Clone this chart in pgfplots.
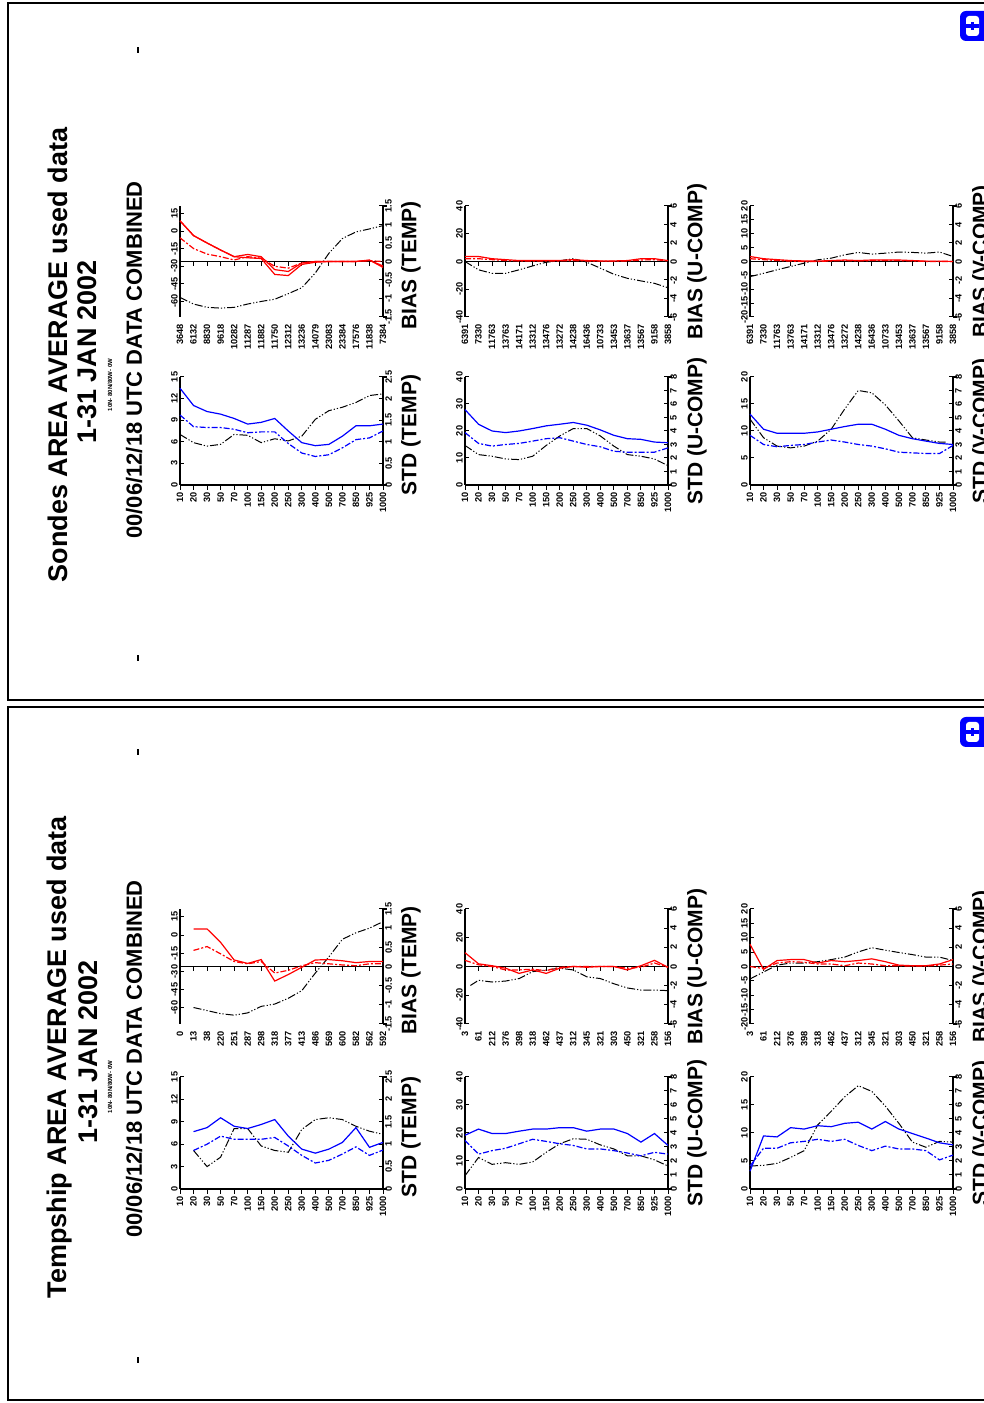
\documentclass[border=0pt]{standalone}
\usepackage{fontspec}
\setmainfont{Liberation Sans}
\usepackage{pgfplots}
\pgfplotsset{compat=1.18}

\newcommand\tk{\fontsize{4.6}{5}\selectfont\bfseries}
\newcommand\axfont{\fontsize{10.5}{12}\selectfont\bfseries}
\newcommand\ttl{\fontsize{13.5}{16}\selectfont\bfseries}

\tikzset{axl/.style={rotate=90, font=\axfont, inner sep=0pt}}

\pgfplotsset{
 base/.style={scale only axis, width=101.5pt, xmin=0, xmax=15, clip=false, anchor=south west,
   axis line style={line width=0.6pt, black}, tick style={line width=0.5pt, black}, major tick length=2pt},
 leftA/.style={base, axis y line*=left, axis x line*=bottom, x axis line style={draw=none},
   xtick={0,...,15}, major x tick style={draw=none},
   yticklabel style={rotate=90, anchor=south, font=\tk, inner sep=1pt},
   xticklabel style={yshift=-2.5pt, rotate=90, anchor=east, font=\tk, inner sep=1pt},
   tick align=inside},
 rightA/.style={base, axis y line*=right, axis x line=none,
   yticklabel style={rotate=90, anchor=north, font=\tk, inner sep=1pt}, tick align=inside},
 pres/.style={xticklabels={10,20,30,50,70,100,150,200,250,300,400,500,700,850,925,1000}},
 cntST/.style={xticklabels={3648,6132,8830,9618,10282,11287,11882,11750,12312,13236,14079,23083,23384,17576,11838,7384}},
 cntSW/.style={xticklabels={6391,7330,11763,13763,14171,13312,13476,13272,14238,16436,10733,13453,13637,13567,9158,3858}},
 cntTT/.style={xticklabels={0,13,38,220,251,287,298,318,377,413,486,569,600,582,562,592}},
 cntTW/.style={xticklabels={3,61,212,376,398,318,462,437,312,345,321,303,450,321,258,156}},
 tbias/.style={ymin=-1.5, ymax=1.5},
 wbias/.style={ymin=-3, ymax=3},
 tstd/.style={ymin=0, ymax=2.5},
 wstd/.style={ymin=0, ymax=8},
 LtB/.style={ytick={1.31,0.82,0.34,-0.13,-0.6,-1.07}, yticklabels={15,0,-15,-30,-45,-60}},
 LuB/.style={ytick={3,1.5,0,-1.5,-3}, yticklabels={40,20,0,-20,-40}},
 LvB/.style={ytick={3,2.25,1.5,0.75,0,-0.75,-1.5,-2.25,-3}, yticklabels={20,15,10,5,0,-5,-10,-15,-20}},
 LtS/.style={ytick={0,0.5,1,1.5,2,2.5}, yticklabels={0,3,6,9,12,15}},
 LuS/.style={ytick={0,2,4,6,8}, yticklabels={0,10,20,30,40}},
 LvS/.style={ytick={0,2,4,6,8}, yticklabels={0,5,10,15,20}},
 RtB/.style={ytick={-1.5,-1,-0.5,0,0.5,1,1.5}, yticklabels={-1.5,-1,-0.5,0,0.5,1,1.5}},
 RwB/.style={ytick={-3,-2,-1,0,1,2,3}, yticklabels={-6,-4,-2,0,2,4,6}},
 RtS/.style={ytick={0,0.5,1,1.5,2,2.5}, yticklabels={0,0.5,1,1.5,2,2.5}},
 RwS/.style={ytick={0,1,2,3,4,5,6,7,8}, yticklabels={0,1,2,3,4,5,6,7,8}},
 redS/.style={red, line width=0.6pt},
 redD/.style={red, line width=0.6pt, dash pattern=on 3pt off 1pt on 1pt off 1pt},
 bluS/.style={blue, line width=0.6pt},
 bluD/.style={blue, line width=0.6pt, dash pattern=on 3pt off 1pt on 1pt off 1pt},
 blk/.style={black, line width=0.5pt, dash pattern=on 4pt off 1pt on 0.6pt off 1pt on 0.6pt off 1pt},
}

\newcommand\zeroline{%
  \draw[line width=0.6pt] (axis cs:0,0) -- (axis cs:15,0);
  \pgfplotsinvokeforeach{0,...,15}{\draw[line width=0.5pt] (axis cs:##1,0) -- ++(0pt,-2.5pt);}}
\newcommand\serifs{%
  \draw[line width=0.6pt] (rel axis cs:1,1) -- ++(2pt,0pt);
  \draw[line width=0.6pt] (rel axis cs:1,0) -- ++(2pt,0pt);}

\begin{document}
\begin{tikzpicture}
\useasboundingbox (0,0) rectangle (492pt,701.5pt);
\clip (0,0) rectangle (492pt,701.5pt);
\fill[white] (0,0) rectangle (492pt,701.5pt);

% frames
\draw[line width=0.9pt] (500pt,700pt) -- (4pt,700pt) -- (4pt,351.5pt) -- (500pt,351.5pt);
\draw[line width=0.9pt] (500pt,348pt) -- (4pt,348pt) -- (4pt,1.5pt) -- (500pt,1.5pt);

% marks
\fill (68.5pt,675pt) rectangle (69.5pt,678pt);
\fill (68.5pt,371pt) rectangle (69.5pt,374pt);
\fill (68.5pt,324pt) rectangle (69.5pt,327pt);
\fill (68.5pt,20pt) rectangle (69.5pt,23pt);

% logos
\foreach \yy in {681pt,328pt}{
  \begin{scope}[yshift=\yy]
  \fill[blue, rounded corners=3pt] (480pt,0pt) rectangle (496pt,15pt);
  \fill[white, rounded corners=1.5pt] (483pt,2.5pt) rectangle (489.5pt,12.5pt);
  \fill[blue] (483pt,6.6pt) rectangle (489.5pt,8.4pt);
  \fill[blue] (485.3pt,5.5pt) rectangle (487.2pt,9.5pt);
  \end{scope}
}

% titles Sondes
\node[rotate=90, font=\ttl] at (29pt,524pt) {Sondes AREA AVERAGE used data};
\node[rotate=90, font=\ttl] at (43.5pt,525.5pt) {1-31 JAN 2002};
\node[rotate=90, font=\fontsize{3}{3.5}\selectfont\bfseries] at (55pt,509pt) {10N- 80N/80W- 0W};
\node[rotate=90, font=\fontsize{11}{13}\selectfont\bfseries] at (67pt,521.5pt) {00/06/12/18 UTC DATA COMBINED};
% titles Tempship
\node[rotate=90, font=\ttl] at (30pt,173pt) {Tempship AREA AVERAGE used data};
\node[rotate=90, font=\ttl] at (44pt,175.5pt) {1-31 JAN 2002};
\node[rotate=90, font=\fontsize{3}{3.5}\selectfont\bfseries] at (55pt,158pt) {10N- 80N/80W- 0W};
\node[rotate=90, font=\fontsize{11}{13}\selectfont\bfseries] at (67pt,172pt) {00/06/12/18 UTC DATA COMBINED};

%%%%%%%%%%%%%%%% SONDES %%%%%%%%%%%%%%%%
% TEMP BIAS
\begin{axis}[leftA, cntST, tbias, LtB, at={(90pt,543pt)}, height=55.5pt]
\zeroline
\end{axis}
\begin{axis}[rightA, tbias, RtB, at={(90pt,543pt)}, height=55.5pt]
\addplot[blk] coordinates {(0,-0.97)(1,-1.15)(2,-1.24)(3,-1.26)(4,-1.24)(5,-1.15)(6,-1.08)(7,-1.02)(8,-0.87)(9,-0.71)(10,-0.31)(11,0.22)(12,0.62)(13,0.8)(14,0.88)(15,0.97)};
\addplot[redD] coordinates {(0,0.64)(1,0.35)(2,0.2)(3,0.13)(4,0.04)(5,0.13)(6,0.09)(7,-0.13)(8,-0.18)(9,-0.04)(10,0)(11,0)(12,0)(13,0)(14,0.02)(15,0)};
\addplot[redS] coordinates {(0,1.1)(1,0.7)(2,0.5)(3,0.31)(4,0.13)(5,0.1)(6,0.08)(7,-0.35)(8,-0.38)(9,-0.08)(10,-0.02)(11,0)(12,0)(13,0)(14,0.03)(15,-0.12)};
\addplot[redS] coordinates {(0,1.1)(1,0.7)(2,0.5)(3,0.31)(4,0.13)(5,0.19)(6,0.13)(7,-0.22)(8,-0.27)(9,-0.04)(10,0)(11,0)(12,0)(13,0)(14,0.04)(15,-0.16)};
\serifs
\node[axl] at ([xshift=14pt,yshift=-2pt]rel axis cs:1,0.5) {BIAS (TEMP)};
\end{axis}
% TEMP STD
\begin{axis}[leftA, pres, tstd, LtS, at={(90pt,459pt)}, height=54pt]
\zeroline
\end{axis}
\begin{axis}[rightA, tstd, RtS, at={(90pt,459pt)}, height=54pt]
\addplot[blk] coordinates {(0,1.17)(1,0.98)(2,0.90)(3,0.94)(4,1.17)(5,1.15)(6,0.98)(7,1.07)(8,1.02)(9,1.13)(10,1.52)(11,1.72)(12,1.80)(13,1.91)(14,2.07)(15,2.11)};
\addplot[bluD] coordinates {(0,1.62)(1,1.35)(2,1.33)(3,1.33)(4,1.29)(5,1.21)(6,1.23)(7,1.23)(8,0.96)(9,0.74)(10,0.66)(11,0.70)(12,0.86)(13,1.05)(14,1.09)(15,1.25)};
\addplot[bluS] coordinates {(0,2.24)(1,1.84)(2,1.70)(3,1.64)(4,1.54)(5,1.41)(6,1.45)(7,1.54)(8,1.25)(9,0.98)(10,0.91)(11,0.94)(12,1.13)(13,1.37)(14,1.37)(15,1.41)};
\serifs
\node[axl] at ([xshift=14pt,yshift=-2pt]rel axis cs:1,0.5) {STD (TEMP)};
\end{axis}

% U BIAS
\begin{axis}[leftA, cntSW, wbias, LuB, at={(232.5pt,543pt)}, height=55.5pt]
\zeroline
\end{axis}
\begin{axis}[rightA, wbias, RwB, at={(232.5pt,543pt)}, height=55.5pt]
\addplot[blk] coordinates {(0,0)(1,-0.45)(2,-0.64)(3,-0.64)(4,-0.45)(5,-0.24)(6,-0.04)(7,0.04)(8,0.15)(9,-0.04)(10,-0.36)(11,-0.69)(12,-0.91)(13,-1.05)(14,-1.18)(15,-1.42)};
\addplot[redD] coordinates {(0,0.15)(1,0.15)(2,0.1)(3,0.05)(4,0.03)(5,0.03)(6,0.03)(7,0.03)(8,0.05)(9,0.03)(10,0.02)(11,0.02)(12,0.03)(13,0.08)(14,0.1)(15,0.03)};
\addplot[redS] coordinates {(0,0.27)(1,0.27)(2,0.15)(3,0.1)(4,0.05)(5,0.05)(6,0.05)(7,0.05)(8,0.1)(9,0.05)(10,0.03)(11,0.03)(12,0.05)(13,0.15)(14,0.15)(15,0.05)};
\serifs
\node[axl] at ([xshift=14.5pt]rel axis cs:1,0.5) {BIAS (U-COMP)};
\end{axis}
% U STD
\begin{axis}[leftA, pres, wstd, LuS, at={(232.5pt,459pt)}, height=54pt]
\zeroline
\end{axis}
\begin{axis}[rightA, wstd, RwS, at={(232.5pt,459pt)}, height=54pt]
\addplot[blk] coordinates {(0,2.93)(1,2.25)(2,2.13)(3,1.93)(4,1.88)(5,2.13)(6,2.93)(7,3.63)(8,4.18)(9,4.18)(10,3.63)(11,2.88)(12,2.25)(13,2.13)(14,1.93)(15,1.43)};
\addplot[bluD] coordinates {(0,3.88)(1,3.08)(2,2.88)(3,3.0)(4,3.08)(5,3.25)(6,3.43)(7,3.5)(8,3.25)(9,3.0)(10,2.83)(11,2.5)(12,2.43)(13,2.43)(14,2.43)(15,2.75)};
\addplot[bluS] coordinates {(0,5.58)(1,4.5)(2,4.0)(3,3.88)(4,4.0)(5,4.18)(6,4.38)(7,4.5)(8,4.63)(9,4.43)(10,4.08)(11,3.68)(12,3.43)(13,3.38)(14,3.18)(15,3.13)};
\serifs
\node[axl] at ([xshift=14.5pt]rel axis cs:1,0.5) {STD (U-COMP)};
\end{axis}

% V BIAS
\begin{axis}[leftA, cntSW, wbias, LvB, at={(375pt,543pt)}, height=55.5pt]
\zeroline
\end{axis}
\begin{axis}[rightA, wbias, RwB, at={(375pt,543pt)}, height=55.5pt]
\addplot[blk] coordinates {(0,-0.82)(1,-0.64)(2,-0.45)(3,-0.27)(4,-0.09)(5,0.09)(6,0.18)(7,0.36)(8,0.49)(9,0.4)(10,0.45)(11,0.51)(12,0.49)(13,0.45)(14,0.51)(15,0.27)};
\addplot[redD] coordinates {(0,0.15)(1,0.1)(2,0.05)(3,0.02)(4,0)(5,0)(6,0.03)(7,0.05)(8,0.03)(9,0.05)(10,0.05)(11,0.05)(12,0.03)(13,0)(14,0)(15,0)};
\addplot[redS] coordinates {(0,0.27)(1,0.15)(2,0.1)(3,0.05)(4,0.03)(5,0.02)(6,0.05)(7,0.08)(8,0.05)(9,0.08)(10,0.08)(11,0.08)(12,0.05)(13,0.02)(14,0.02)(15,0)};
\serifs
\node[axl] at ([xshift=14.5pt]rel axis cs:1,0.5) {BIAS (V-COMP)};
\end{axis}
% V STD
\begin{axis}[leftA, pres, wstd, LvS, at={(375pt,459pt)}, height=54pt]
\zeroline
\end{axis}
\begin{axis}[rightA, wstd, RwS, at={(375pt,459pt)}, height=54pt]
\addplot[blk] coordinates {(0,4.88)(1,3.5)(2,2.88)(3,2.75)(4,2.88)(5,3.25)(6,4.13)(7,5.63)(8,7.0)(9,6.83)(10,5.93)(11,4.75)(12,3.5)(13,3.33)(14,3.18)(14.5,3.18)};
\addplot[bluD] coordinates {(0,3.68)(1,3.0)(2,2.83)(3,2.93)(4,3.0)(5,3.18)(6,3.33)(7,3.18)(8,3.0)(9,2.88)(10,2.68)(11,2.43)(12,2.38)(13,2.33)(14,2.33)(15,2.93)};
\addplot[bluS] coordinates {(0,5.25)(1,4.13)(2,3.83)(3,3.83)(4,3.83)(5,3.93)(6,4.13)(7,4.33)(8,4.5)(9,4.5)(10,4.13)(11,3.68)(12,3.43)(13,3.25)(14,3.08)(15,3.0)};
\serifs
\node[axl] at ([xshift=14.5pt]rel axis cs:1,0.5) {STD (V-COMP)};
\end{axis}

%%%%%%%%%%%%%%%% TEMPSHIP %%%%%%%%%%%%%%%%
% TEMP BIAS
\begin{axis}[leftA, cntTT, tbias, LtB, at={(90pt,189.5pt)}, height=57.5pt]
\zeroline
\end{axis}
\begin{axis}[rightA, tbias, RtB, at={(90pt,189.5pt)}, height=57.5pt]
\addplot[blk] coordinates {(1,-1.07)(2,-1.15)(3,-1.23)(4,-1.27)(5,-1.21)(6,-1.04)(7,-0.98)(8,-0.83)(9,-0.63)(10,-0.17)(11,0.25)(12,0.71)(13,0.88)(14,1.0)(15,1.17)};
\addplot[redD] coordinates {(1,0.42)(2,0.52)(3,0.33)(4,0.13)(5,0.07)(6,0.13)(7,-0.17)(8,-0.1)(9,0.02)(10,0.1)(11,0.07)(12,0.04)(13,0.02)(14,0.07)(15,0.07)};
\addplot[redS] coordinates {(1,0.98)(2,0.98)(3,0.63)(4,0.17)(5,0.08)(6,0.18)(7,-0.38)(8,-0.21)(9,-0.02)(10,0.17)(11,0.18)(12,0.15)(13,0.1)(14,0.13)(15,0.13)};
\serifs
\node[axl] at ([xshift=14pt,yshift=-2pt]rel axis cs:1,0.5) {BIAS (TEMP)};
\end{axis}
% TEMP STD
\begin{axis}[leftA, pres, tstd, LtS, at={(90pt,107pt)}, height=56pt]
\zeroline
\end{axis}
\begin{axis}[rightA, tstd, RtS, at={(90pt,107pt)}, height=56pt]
\addplot[blk] coordinates {(1,0.86)(2,0.50)(3,0.71)(4,1.35)(5,1.35)(6,0.96)(7,0.86)(8,0.82)(9,1.33)(10,1.55)(11,1.59)(12,1.55)(13,1.40)(14,1.29)(15,1.22)};
\addplot[bluD] coordinates {(1,0.86)(2,1.0)(3,1.18)(4,1.11)(5,1.11)(6,1.11)(7,1.15)(8,0.96)(9,0.75)(10,0.58)(11,0.64)(12,0.78)(13,0.94)(14,0.75)(15,0.87)};
\addplot[bluS] coordinates {(1,1.28)(2,1.37)(3,1.59)(4,1.40)(5,1.35)(6,1.44)(7,1.55)(8,1.18)(9,0.89)(10,0.80)(11,0.89)(12,1.04)(13,1.37)(14,0.93)(15,1.04)};
\serifs
\node[axl] at ([xshift=14pt,yshift=-2pt]rel axis cs:1,0.5) {STD (TEMP)};
\end{axis}

% U BIAS
\begin{axis}[leftA, cntTW, wbias, LuB, at={(232.5pt,189.5pt)}, height=57.5pt]
\zeroline
\end{axis}
\begin{axis}[rightA, wbias, RwB, at={(232.5pt,189.5pt)}, height=57.5pt]
\addplot[blk] coordinates {(0.4,-0.99)(1,-0.72)(2,-0.81)(3,-0.76)(4,-0.63)(5,-0.27)(6,-0.18)(7,-0.09)(8,-0.18)(9,-0.54)(10,-0.63)(11,-0.9)(12,-1.12)(13,-1.23)(14,-1.23)(15,-1.26)};
\addplot[redD] coordinates {(0,0.32)(1,0.09)(2,0)(3,-0.18)(4,-0.18)(5,-0.14)(6,-0.22)(7,-0.04)(8,0)(9,0)(10,0)(11,0)(12,-0.09)(13,-0.04)(14,0.18)(15,-0.04)};
\addplot[redS] coordinates {(0,0.72)(1,0.14)(2,0.04)(3,-0.09)(4,-0.36)(5,-0.18)(6,-0.36)(7,-0.09)(8,0)(9,-0.04)(10,0)(11,0)(12,-0.18)(13,0.04)(14,0.32)(15,-0.04)};
\serifs
\node[axl] at ([xshift=14.5pt]rel axis cs:1,0.5) {BIAS (U-COMP)};
\end{axis}
% U STD
\begin{axis}[leftA, pres, wstd, LuS, at={(232.5pt,107pt)}, height=56pt]
\zeroline
\end{axis}
\begin{axis}[rightA, wstd, RwS, at={(232.5pt,107pt)}, height=56pt]
\addplot[blk] coordinates {(0,0.95)(1,2.25)(2,1.76)(3,1.88)(4,1.76)(5,1.93)(6,2.62)(7,3.23)(8,3.59)(9,3.55)(10,3.15)(11,2.86)(12,2.37)(13,2.37)(14,2.08)(15,1.64)};
\addplot[bluD] coordinates {(0,3.47)(1,2.49)(2,2.74)(3,2.91)(4,3.23)(5,3.55)(6,3.40)(7,3.23)(8,3.11)(9,2.86)(10,2.86)(11,2.74)(12,2.57)(13,2.37)(14,2.62)(15,2.49)};
\addplot[bluS] coordinates {(0,3.84)(1,4.28)(2,3.96)(3,3.96)(4,4.13)(5,4.28)(6,4.28)(7,4.38)(8,4.38)(9,4.13)(10,4.28)(11,4.28)(12,3.96)(13,3.35)(14,3.96)(15,3.11)};
\serifs
\node[axl] at ([xshift=14.5pt]rel axis cs:1,0.5) {STD (U-COMP)};
\end{axis}

% V BIAS
\begin{axis}[leftA, cntTW, wbias, LvB, at={(375pt,189.5pt)}, height=57.5pt]
\zeroline
\end{axis}
\begin{axis}[rightA, wbias, RwB, at={(375pt,189.5pt)}, height=57.5pt]
\addplot[blk] coordinates {(0,-0.65)(1,-0.29)(2,0.07)(3,0.18)(4,0.18)(5,0.25)(6,0.36)(7,0.49)(8,0.76)(9,0.98)(10,0.85)(11,0.73)(12,0.62)(13,0.49)(14,0.49)(15,0.31)};
\addplot[redD] coordinates {(0,0)(1,-0.11)(2,0.18)(3,0.25)(4,0.22)(5,0.13)(6,0.13)(7,0.04)(8,0.18)(9,0.13)(10,0.04)(11,0.04)(12,0.02)(13,0.02)(14,0.07)(15,0.13)};
\addplot[redS] coordinates {(0,1.16)(1,-0.15)(2,0.31)(3,0.36)(4,0.36)(5,0.18)(6,0.31)(7,0.25)(8,0.31)(9,0.4)(10,0.25)(11,0.07)(12,0.04)(13,0.04)(14,0.13)(15,0.36)};
\serifs
\node[axl] at ([xshift=14.5pt]rel axis cs:1,0.5) {BIAS (V-COMP)};
\end{axis}
% V STD
\begin{axis}[leftA, pres, wstd, LvS, at={(375pt,107pt)}, height=56pt]
\zeroline
\end{axis}
\begin{axis}[rightA, wstd, RwS, at={(375pt,107pt)}, height=56pt]
\addplot[blk] coordinates {(0,1.64)(1,1.69)(2,1.83)(3,2.25)(4,2.74)(5,4.57)(6,5.55)(7,6.58)(8,7.38)(9,6.97)(10,5.92)(11,4.69)(12,3.35)(13,2.98)(14,3.40)(15,3.35)};
\addplot[bluD] coordinates {(0,1.64)(1,2.91)(2,2.91)(3,3.30)(4,3.40)(5,3.55)(6,3.40)(7,3.55)(8,3.11)(9,2.74)(10,3.06)(11,2.86)(12,2.86)(13,2.74)(14,2.08)(15,2.42)};
\addplot[bluS] coordinates {(0,1.27)(1,3.79)(2,3.72)(3,4.38)(4,4.28)(5,4.52)(6,4.45)(7,4.69)(8,4.77)(9,4.28)(10,4.82)(11,4.28)(12,3.96)(13,3.64)(14,3.30)(15,3.15)};
\serifs
\node[axl] at ([xshift=14.5pt]rel axis cs:1,0.5) {STD (V-COMP)};
\end{axis}
\end{tikzpicture}
\end{document}
